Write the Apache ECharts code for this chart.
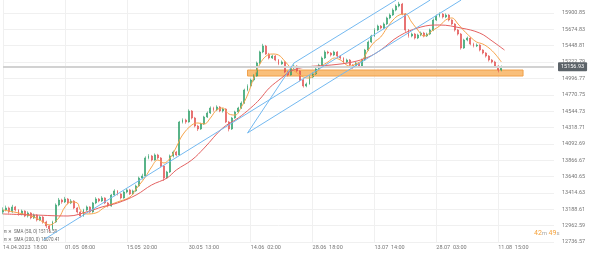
<!DOCTYPE html>
<html><head><meta charset="utf-8">
<script src="https://cdn.jsdelivr.net/npm/echarts@6/dist/echarts.min.js"></script>
<style>html,body{margin:0;padding:0;background:#fff}#c{width:589px;height:254px}</style>
</head><body><div id="c"></div>
<script>
const tickLabels = ['14.04.2023  18:00','01.05  08:00','15.05  20:00','30.05  13:00','14.06  02:00','28.06  18:00','13.07  14:00','28.07  03:00','11.08  15:00'];
const totalSlots = 179;
const yTicks = [12736.57,12962.59,13188.61,13414.63,13640.65,13866.67,14092.69,14318.71,14544.73,14770.75,14996.77,15222.79,15448.81,15674.83,15900.85];
// [open, close, low, high]
const ohlc = [
[13150,13179,13120,13215],[13179,13207,13160,13240],[13207,13151,13130,13225],[13151,13221,13140,13250],[13221,13179,13160,13235],
[13179,13124,13100,13190],[13124,13165,13105,13185],[13165,13096,13080,13175],[13096,13138,13075,13160],[13138,13069,13050,13150],
[13069,13110,13055,13130],[13110,13041,13020,13120],[13041,13082,13025,13100],[13082,13013,12990,13095],[13013,12958,12930,13030],
[12958,12917,12880,12975],[12917,13013,12900,13030],[13013,13248,13000,13270],[13248,13317,13230,13345],[13317,13290,13265,13335],
[13290,13331,13275,13360],[13331,13276,13255,13345],[13276,13303,13260,13330],[13303,13207,13190,13315],[13207,13151,13130,13220],
[13151,13096,13075,13165],[13096,13179,13085,13195],[13179,13221,13160,13240],[13221,13151,13135,13230],[13151,13276,13140,13290],
[13276,13331,13260,13355],[13331,13303,13285,13345],[13303,13345,13290,13370],[13345,13276,13260,13355],[13276,13234,13215,13290],
[13234,13386,13225,13400],[13386,13442,13370,13465],[13442,13400,13380,13455],[13400,13345,13325,13410],[13345,13428,13335,13445],
[13428,13456,13410,13480],[13456,13400,13385,13470],[13400,13442,13390,13460],[13442,13511,13430,13530],[13511,13621,13500,13640],
[13621,13649,13600,13680],[13649,13898,13640,13920],[13898,13925,13880,13950],[13925,13870,13850,13940],[13870,13939,13860,13960],
[13939,13898,13880,13955],[13898,13787,13770,13910],[13787,13621,13580,13800],[13621,13704,13610,13720],[13704,13925,13690,13945],
[13925,13980,13905,14000],[13980,13939,13920,13995],[13939,14395,13930,14410],[14395,14422,14375,14445],[14422,14395,14370,14440],
[14395,14547,14385,14570],[14547,14450,14430,14560],[14450,14339,14320,14465],[14339,14298,14270,14355],[14298,14367,14285,14385],
[14367,14464,14355,14480],[14464,14519,14450,14540],[14519,14588,14505,14610],[14588,14561,14540,14605],[14561,14602,14545,14625],
[14602,14547,14530,14615],[14547,14574,14525,14590],[14574,14395,14380,14585],[14395,14298,14265,14410],[14298,14450,14285,14465],
[14450,14533,14440,14550],[14533,14588,14520,14605],[14588,14657,14575,14680],[14657,14837,14645,14855],[14837,14892,14820,14915],
[14892,14975,14880,14995],[14975,15030,14955,15055],[15030,15210,15020,15230],[15210,15362,15195,15380],[15362,15445,15345,15475],
[15445,15334,15320,15460],[15334,15279,15260,15350],[15279,15306,15265,15325],[15306,15251,15235,15320],[15251,15196,15180,15265],
[15196,15224,15185,15245],[15224,15086,15070,15235],[15086,15044,15025,15100],[15044,15141,15035,15160],[15141,15168,15125,15190],
[15168,15099,15085,15180],[15099,14975,14955,15110],[14975,14892,14870,14990],[14892,14920,14875,14940],[14920,15016,14910,15035],
[15016,15058,15000,15080],[15058,15127,15045,15145],[15127,15182,15110,15200],[15182,15279,15170,15300],[15279,15362,15265,15385],
[15362,15348,15330,15380],[15348,15320,15300,15360],[15320,15362,15305,15380],[15362,15306,15290,15375],[15306,15279,15260,15320],
[15279,15224,15205,15290],[15224,15251,15210,15270],[15251,15182,15165,15265],[15182,15155,15130,15195],[15155,15210,15140,15225],
[15210,15168,15150,15220],[15168,15251,15155,15270],[15251,15389,15240,15405],[15389,15500,15375,15520],[15500,15583,15485,15600],
[15583,15666,15570,15690],[15666,15721,15650,15740],[15721,15693,15675,15735],[15693,15749,15680,15770],[15749,15832,15735,15850],
[15832,15873,15815,15895],[15873,15942,15860,15965],[15942,15997,15925,16020],[15997,16025,15980,16055],[16025,15887,15870,16040],
[15887,15666,15640,15900],[15666,15583,15560,15680],[15583,15610,15565,15630],[15610,15555,15535,15625],[15555,15597,15540,15615],
[15597,15624,15580,15645],[15624,15583,15565,15640],[15583,15610,15570,15630],[15610,15666,15595,15685],[15666,15804,15650,15825],
[15804,15859,15790,15880],[15859,15887,15840,15910],[15887,15846,15825,15900],[15846,15873,15830,15895],[15873,15804,15785,15885],
[15804,15749,15730,15815],[15749,15666,15645,15760],[15666,15610,15590,15680],[15610,15417,15395,15625],[15417,15528,15405,15545],
[15528,15555,15510,15575],[15555,15472,15455,15570],[15472,15445,15425,15490],[15445,15458,15430,15480],[15458,15389,15370,15470],
[15389,15348,15330,15400],[15348,15306,15285,15360],[15306,15251,15230,15320],[15251,15224,15205,15265],[15224,15168,15150,15240],
[15168,15113,15080,15180],[15113,15155,15095,15175]
];
// [slot index, value]
const sma50 = [[0,13179],[5,13138],[10,13082],[14,12986],[15,12972],[18,13069],[20,13221],[22,13290],[24,13276],[25,13179],[27,13124],[30,13138],[33,13221],[37,13290],[41,13358],[43,13469],[46,13635],[48,13773],[50,13870],[52,13828],[54,13897],[56,14049],[58,14215],[61,14353],[63,14381],[65,14367],[67,14450],[69,14561],[71,14588],[73,14505],[75,14491],[77,14602],[79,14768],[81,15003],[83,15196],[85,15306],[87,15334],[89,15320],[91,15237],[93,15141],[95,15072],[97,15016],[99,15003],[101,15072],[103,15168],[105,15224],[107,15279],[109,15251],[112,15168],[114,15196],[116,15251],[118,15389],[120,15500],[122,15569],[124,15693],[126,15804],[128,15873],[130,15887],[132,15776],[134,15666],[136,15583],[139,15666],[141,15721],[143,15804],[145,15832],[147,15749],[149,15652],[151,15569],[153,15500],[155,15472],[157,15417],[159,15334],[161,15224]];
const sma200 = [[0,13124],[10,13110],[21,13096],[28,13165],[32,13221],[37,13276],[43,13386],[48,13524],[53,13621],[56,13732],[61,13870],[65,14035],[71,14312],[76,14450],[80,14588],[83,14712],[86,14864],[90,15003],[93,15099],[98,15155],[106,15182],[113,15224],[118,15292],[122,15389],[128,15583],[135,15707],[141,15735],[148,15693],[154,15624],[158,15514],[162,15389]];
// trend lines: [[slot, value],[slot, value]]
const trendLines = [
  [[13.2,12764],[138.1,16080]],
  [[79.35,14243],[148.4,16080]],
  [[79.35,14243],[93.9,15210]],
  [[93.9,15210],[127.4,16080]]
];
const zoneLow = 15030, zoneHigh = 15113, zoneStart = 79, zoneEnd = 168;
const lastPrice = 15156.93;
const legendRows = ['SMA (50, 0) 15116.59','SMA (200, 0) 15070.41'];

const categories = [];
for (let i = 0; i < totalSlots; i++) categories.push(i % 20 === 0 && tickLabels[i/20] ? tickLabels[i/20] : '');

const chart = echarts.init(document.getElementById('c'), null, {renderer:'canvas'});
const font = 'Roboto, "DejaVu Sans", sans-serif';
const series = [
  {
    type:'candlestick', data: ohlc, barWidth: 1.4,
    itemStyle:{color:'#2f9f6a', color0:'#e25050', borderColor:'#2f9f6a', borderColor0:'#e25050', borderWidth:0.6},
    markLine:{
      silent:true, symbol:['none','none'],
      lineStyle:{color:'#d2d2d2', width:2, type:'solid'},
      label:{show:true, position:'end', formatter: lastPrice.toFixed(2), color:'#fff', backgroundColor:'#5c6369',
        fontSize:5.5, fontFamily:font, padding:[2,3,1,3], borderRadius:1, distance:4},
      data:[{yAxis:lastPrice}]
    },
    z:3
  },
  {type:'line', data: sma50, showSymbol:false, smooth:0.4, lineStyle:{color:'#f7a44a', width:1}, silent:true, z:4},
  {type:'line', data: sma200, showSymbol:false, smooth:0.4, lineStyle:{color:'#e46262', width:1}, silent:true, z:4},
  {type:'line', data: [], silent:true,
    markArea:{silent:true, itemStyle:{color:'rgba(248,180,100,0.85)', borderColor:'#f1a04a', borderWidth:1},
      data:[[{xAxis:zoneStart, yAxis:zoneLow},{xAxis:zoneEnd, yAxis:zoneHigh}]]}, z:5}
];
trendLines.forEach(l => series.push({type:'line', data:l, showSymbol:false, silent:true, lineStyle:{color:'#74b9f0', width:1}, z:5}));

chart.setOption({
  animation:false,
  backgroundColor:'#ffffff',
  grid:{left:2, right:35, top:0, bottom:12},
  xAxis:{type:'category', data:categories, boundaryGap:false,
    axisLine:{show:false}, axisTick:{show:false},
    axisLabel:{interval:(i)=>i%20===0, align:'left', fontSize:5.5, color:'#777', fontFamily:font, margin:3, hideOverlap:false},
    splitLine:{show:true, interval:(i)=>i%20===0, lineStyle:{color:'#f0f0f0', width:1}}
  },
  yAxis:{type:'value', position:'right', min:12736.57, max:16080.5, scale:true,
    axisLine:{show:false}, axisTick:{show:false, customValues:yTicks},
    axisLabel:{customValues:yTicks, fontSize:5.5, color:'#777', fontFamily:font, margin:8, formatter:(v)=>v.toFixed(2)},
    splitLine:{show:true, lineStyle:{color:'#f0f0f0', width:1}}
  },
  series: series,
  graphic:[
    {type:'text', left:3, top:229, style:{text:'⊞ ✕  '+legendRows[0], fontSize:4.5, fill:'#666', fontFamily:font}},
    {type:'text', left:3, top:237, style:{text:'⊞ ✕  '+legendRows[1], fontSize:4.5, fill:'#666', fontFamily:font}},
    {type:'text', left:534, top:230, style:{text:'{o|42}{g|m }{o|49}{g|s}', rich:{o:{fill:'#f5a23c', fontSize:7, fontFamily:font}, g:{fill:'#aaa', fontSize:6, fontFamily:font}}}}
  ]
});
</script></body></html>
